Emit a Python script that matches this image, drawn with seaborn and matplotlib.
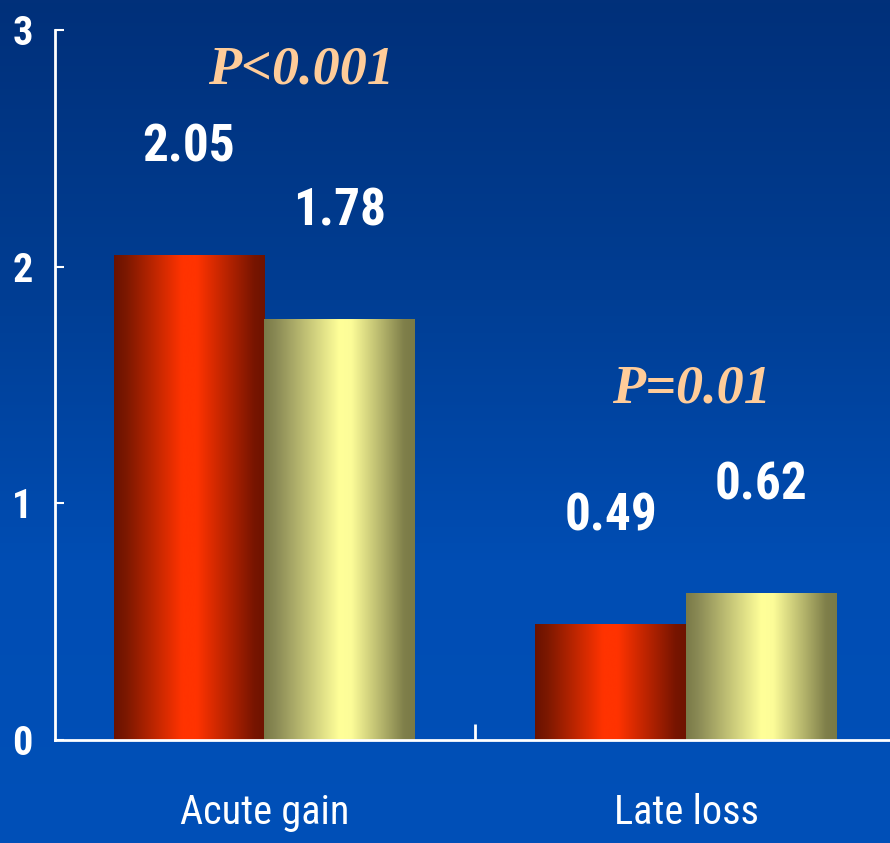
import os
import numpy as np
import pandas as pd
import matplotlib
matplotlib.use("Agg")
import matplotlib.pyplot as plt
from matplotlib import font_manager
from matplotlib.font_manager import FontProperties
from matplotlib.colors import LinearSegmentedColormap
import seaborn as sns

# Data
categories = ["Acute gain", "Late loss"]
groups = ["Group A", "Group B"]
values_a = [2.05, 0.49]
values_b = [1.78, 0.62]
p_labels = ["P<0.001", "P=0.01"]
y_ticks = [0, 1, 2, 3]

df = pd.DataFrame({
    "category": categories * 2,
    "group": [groups[0]] * 2 + [groups[1]] * 2,
    "value": values_a + values_b,
})

sns.set_theme(style="white")
plt.rcParams["font.family"] = ["Liberation Sans", "DejaVu Sans"]


def find_narrow(bold):
    """Look for a condensed sans font file; return its path or None."""
    files = font_manager.findSystemFonts()
    prefs = ["LiberationSansNarrow", "RobotoCondensed", "DejaVuSansCondensed",
             "OpenSansCondensed", "NotoSans-Condensed", "NotoSansCondensed"]
    for pref in prefs:
        for f in files:
            base = os.path.basename(f).replace(" ", "")
            if not base.startswith(pref):
                continue
            stem = base.rsplit(".", 1)[0]
            is_bold = stem.endswith("-Bold") or stem.endswith("Bold")
            is_italic = "Italic" in stem or "Oblique" in stem
            if is_italic or "Light" in stem or "Black" in stem or "Medium" in stem:
                continue
            if is_bold == bold:
                return f
    return None


nb = find_narrow(True)
nr = find_narrow(False)
if nb and nr:
    fp_bold_big = FontProperties(fname=nb, size=37)
    fp_bold_tick = FontProperties(fname=nb, size=29)
    fp_cat = FontProperties(fname=nr, size=29)
else:
    fp_bold_big = FontProperties(family="Liberation Sans", weight="bold", size=34)
    fp_bold_tick = FontProperties(family="Liberation Sans", weight="bold", size=26)
    fp_cat = FontProperties(family="Liberation Sans", size=27)

fig = plt.figure(figsize=(8.9, 8.43), dpi=100)

# Vertical blue background gradient over the whole figure
bg = fig.add_axes([0, 0, 1, 1], zorder=-10)
bg_cmap = LinearSegmentedColormap.from_list("bg", ["#01307a", "#003d92", "#004db3", "#0050b8"])
bg.imshow(np.linspace(0, 1, 256).reshape(-1, 1), aspect="auto", cmap=bg_cmap,
          extent=[0, 1, 1, 0])
bg.set_axis_off()

ax = fig.add_axes([55 / 890, 1 - 740 / 843, 1 - 55 / 890, 710 / 843])
ax.patch.set_alpha(0)

sns.barplot(data=df, x="category", y="value", hue="group", order=categories,
            hue_order=groups, palette=["#ff3300", "#ffff99"], width=0.716,
            saturation=1, ax=ax, legend=False, linewidth=0, errorbar=None)

# Cylinder-style horizontal shading for each bar
red_cmap = LinearSegmentedColormap.from_list(
    "red", [(0, "#6a1200"), (0.08, "#7c1800"), (0.45, "#ff3300"),
            (0.55, "#ff3300"), (0.93, "#781500"), (1, "#6e1300")])
yel_cmap = LinearSegmentedColormap.from_list(
    "yel", [(0, "#7a7a48"), (0.08, "#8a8a55"), (0.5, "#ffff99"),
            (0.58, "#fcfc98"), (0.93, "#7f7f4a"), (1, "#7a7a46")])
grad = np.linspace(0, 1, 256).reshape(1, -1)
bars = [p for p in ax.patches if p.get_height() > 0]
for bar in bars:
    x0, w, h = bar.get_x(), bar.get_width(), bar.get_height()
    is_red = abs(np.array(bar.get_facecolor()[:3]) - np.array([1, 0.2, 0])).sum() < 0.1
    cmap = red_cmap if is_red else yel_cmap
    im = ax.imshow(grad, aspect="auto", cmap=cmap, extent=[x0, x0 + w, 0, h],
                   zorder=bar.get_zorder() + 0.1, interpolation="bicubic")
    im.set_clip_path(bar)
    # value label above the bar
    ax.text(x0 + w / 2, h + 0.455, f"{h:.2f}", ha="center", va="center",
            color="white", fontproperties=fp_bold_big)

ax.set_xlim(-0.497, 1.484)
ax.set_ylim(0, 3)

# P-values
p_pos = [(0.087, 2.83), (1.012, 1.48)]
for (px, py), txt in zip(p_pos, p_labels):
    ax.text(px, py, txt, ha="center", va="center", color="#ffcc99",
            fontsize=39, fontweight="bold", fontstyle="italic",
            family=["Liberation Serif", "DejaVu Serif"])

# Axes styling
for side in ["top", "right"]:
    ax.spines[side].set_visible(False)
for side in ["left", "bottom"]:
    ax.spines[side].set_color("white")
    ax.spines[side].set_linewidth(2)

ax.set_yticks(y_ticks)
ax.set_yticklabels([str(t) for t in y_ticks])
ax.tick_params(axis="y", direction="in", length=6.5, width=1.5, color="white",
               labelcolor="white", pad=16, left=True)
for lbl in ax.get_yticklabels():
    lbl.set_fontproperties(fp_bold_tick)

ax.set_xticks([0.5])
ax.set_xticklabels([""])
ax.tick_params(axis="x", which="major", direction="in", length=11.5, width=2,
               color="white", bottom=True)
ax.set_xticks([0, 1], minor=True)
ax.set_xticklabels(categories, minor=True)
ax.tick_params(axis="x", which="minor", length=0, labelcolor="white", pad=38)
for lbl in ax.get_xticklabels(minor=True):
    lbl.set_fontproperties(fp_cat)

ax.set_xlabel("")
ax.set_ylabel("")
ax.grid(False)

fig.savefig("out.png", dpi=100)
